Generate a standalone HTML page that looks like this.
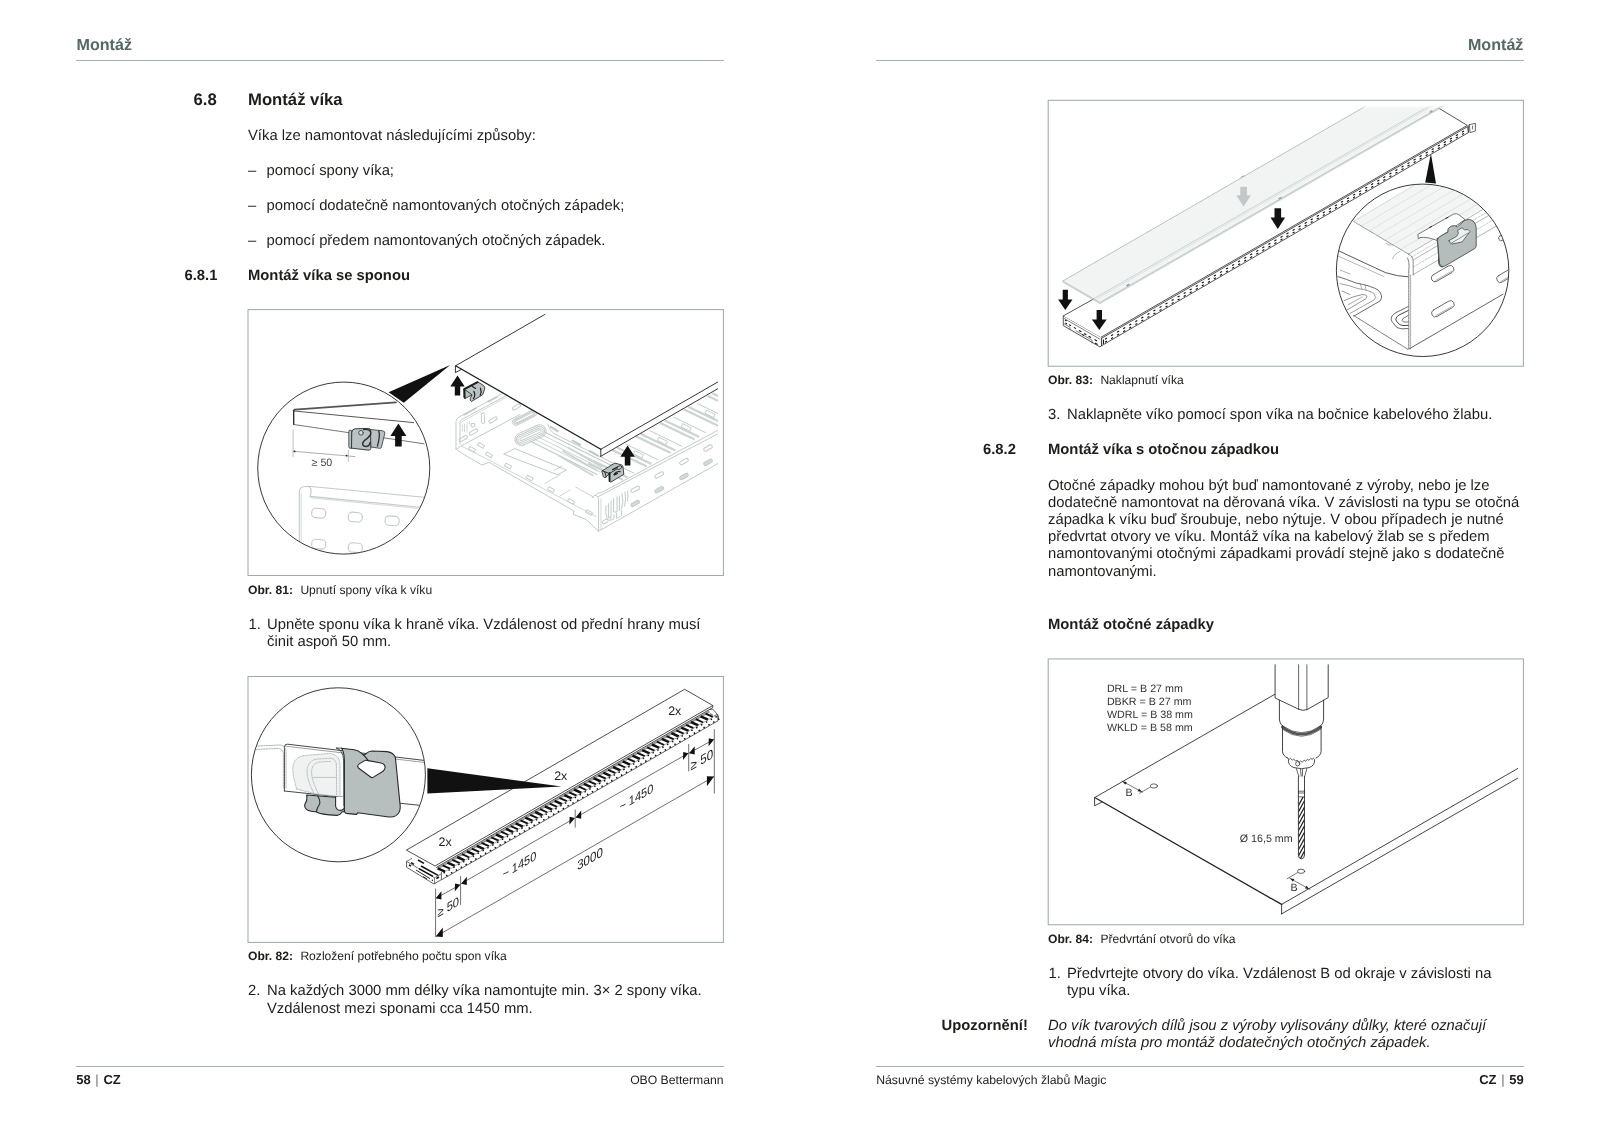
<!DOCTYPE html>
<html lang="cs"><head><meta charset="utf-8"><title>Montáž víka</title>
<style>
html,body{margin:0;padding:0;background:#fff}
#pg{position:absolute;left:0;top:0;width:1600px;height:1131px;will-change:transform;-webkit-font-smoothing:antialiased;text-rendering:geometricPrecision}
body{width:1600px;height:1131px;position:relative;overflow:hidden;font-family:"Liberation Sans",Arial,Helvetica,sans-serif;color:#1d1d1b}
.t{position:absolute;white-space:nowrap;line-height:20px;height:20px}
.rule{position:absolute;height:1.25px;background:#a3b0ae}
.bar{font-weight:normal;color:#6f6f6f}
.fig{position:absolute;border:1px solid #b9c2c0;box-sizing:content-box}
svg.f{position:absolute;left:0;top:0;overflow:visible}
svg.f text{font-family:"Liberation Sans",Arial,Helvetica,sans-serif;fill:#1d1d1b}
</style></head><body><div id="pg">
<div class="t" style="top:35px;font-size:16.1px;left:76.50px;font-weight:bold;color:#546866;">Montáž</div>
<div class="rule" style="left:76px;top:59.5px;width:648px"></div>
<div class="t" style="top:90px;font-size:16.7px;left:193.50px;font-weight:bold;">6.8</div>
<div class="t" style="top:90px;font-size:16.7px;left:248.00px;font-weight:bold;">Montáž víka</div>
<div class="t" style="top:126px;font-size:14.8px;left:248.00px;">Víka lze namontovat následujícími způsoby:</div>
<div class="t" style="top:161px;font-size:14.8px;left:248.00px;">–</div>
<div class="t" style="top:161px;font-size:14.8px;left:266.50px;">pomocí spony víka;</div>
<div class="t" style="top:196px;font-size:14.8px;left:248.00px;">–</div>
<div class="t" style="top:196px;font-size:14.8px;left:266.50px;">pomocí dodatečně namontovaných otočných západek;</div>
<div class="t" style="top:231px;font-size:14.8px;left:248.00px;">–</div>
<div class="t" style="top:231px;font-size:14.8px;left:266.50px;">pomocí předem namontovaných otočných západek.</div>
<div class="t" style="top:266px;font-size:14.8px;left:184.50px;font-weight:bold;">6.8.1</div>
<div class="t" style="top:266px;font-size:14.8px;left:248.00px;font-weight:bold;">Montáž víka se sponou</div>
<div class="t" style="top:580px;font-size:12.1px;left:248.00px;font-weight:bold;">Obr. 81:</div>
<div class="t" style="top:580px;font-size:12.1px;left:300.40px;">Upnutí spony víka k víku</div>
<div class="t" style="top:615px;font-size:14.8px;left:248.60px;">1.</div>
<div class="t" style="top:615px;font-size:14.8px;left:267.00px;">Upněte sponu víka k hraně víka. Vzdálenost od přední hrany musí</div>
<div class="t" style="top:632px;font-size:14.8px;left:267.00px;">činit aspoň 50 mm.</div>
<div class="t" style="top:946px;font-size:12.1px;left:248.00px;font-weight:bold;">Obr. 82:</div>
<div class="t" style="top:946px;font-size:12.1px;left:300.40px;">Rozložení potřebného počtu spon víka</div>
<div class="t" style="top:981px;font-size:14.8px;left:248.00px;">2.</div>
<div class="t" style="top:981px;font-size:14.8px;left:267.00px;">Na každých 3000 mm délky víka namontujte min. 3× 2 spony víka.</div>
<div class="t" style="top:999px;font-size:14.8px;left:267.00px;">Vzdálenost mezi sponami cca 1450 mm.</div>
<div class="rule" style="left:76px;top:1065.6px;width:648px"></div>
<div class="t" style="top:1070px;font-size:13px;left:76.20px;font-weight:bold;word-spacing:1.1px;">58 <span class="bar">|</span> CZ</div>
<div class="t" style="top:1070px;font-size:12.2px;right:876.40px;">OBO Bettermann</div>
<div class="t" style="top:35px;font-size:16.1px;right:76.60px;font-weight:bold;color:#546866;">Montáž</div>
<div class="rule" style="left:876px;top:59.5px;width:648px"></div>
<div class="t" style="top:370px;font-size:12.1px;left:1048.00px;font-weight:bold;">Obr. 83:</div>
<div class="t" style="top:370px;font-size:12.1px;left:1100.40px;">Naklapnutí víka</div>
<div class="t" style="top:405px;font-size:14.8px;left:1048.00px;">3.</div>
<div class="t" style="top:405px;font-size:14.8px;left:1067.00px;">Naklapněte víko pomocí spon víka na bočnice kabelového žlabu.</div>
<div class="t" style="top:440px;font-size:14.8px;left:983.00px;font-weight:bold;">6.8.2</div>
<div class="t" style="top:440px;font-size:14.8px;left:1048.00px;font-weight:bold;">Montáž víka s otočnou západkou</div>
<div class="t" style="top:476px;font-size:14.8px;left:1048.00px;">Otočné západky mohou být buď namontované z výroby, nebo je lze</div>
<div class="t" style="top:493px;font-size:14.8px;left:1048.00px;">dodatečně namontovat na děrovaná víka. V závislosti na typu se otočná</div>
<div class="t" style="top:510px;font-size:14.8px;left:1048.00px;">západka k víku buď šroubuje, nebo nýtuje. V obou případech je nutné</div>
<div class="t" style="top:527px;font-size:14.8px;left:1048.00px;">předvrtat otvory ve víku. Montáž víka na kabelový žlab se s předem</div>
<div class="t" style="top:544px;font-size:14.8px;left:1048.00px;">namontovanými otočnými západkami provádí stejně jako s dodatečně</div>
<div class="t" style="top:562px;font-size:14.8px;left:1048.00px;">namontovanými.</div>
<div class="t" style="top:615px;font-size:14.8px;left:1048.00px;font-weight:bold;">Montáž otočné západky</div>
<div class="t" style="top:929px;font-size:12.1px;left:1048.00px;font-weight:bold;">Obr. 84:</div>
<div class="t" style="top:929px;font-size:12.1px;left:1100.40px;">Předvrtání otvorů do víka</div>
<div class="t" style="top:964px;font-size:14.8px;left:1048.60px;">1.</div>
<div class="t" style="top:964px;font-size:14.8px;left:1067.00px;">Předvrtejte otvory do víka. Vzdálenost B od okraje v závislosti na</div>
<div class="t" style="top:981px;font-size:14.8px;left:1067.00px;">typu víka.</div>
<div class="t" style="top:1016px;font-size:14.8px;left:941.50px;font-weight:bold;">Upozornění!</div>
<div class="t" style="top:1016px;font-size:14.8px;left:1048.00px;font-style:italic;">Do vík tvarových dílů jsou z výroby vylisovány důlky, které označují</div>
<div class="t" style="top:1033px;font-size:14.8px;left:1048.00px;font-style:italic;">vhodná místa pro montáž dodatečných otočných západek.</div>
<div class="rule" style="left:876px;top:1065.6px;width:648px"></div>
<div class="t" style="top:1070px;font-size:12.25px;left:876.20px;">Násuvné systémy kabelových žlabů Magic</div>
<div class="t" style="top:1070px;font-size:13px;right:76.20px;font-weight:bold;word-spacing:1.1px;">CZ <span class="bar">|</span> 59</div>
<svg class="f" width="1600" height="1131" viewBox="0 0 1600 1131"><g fill="none" stroke="#a0abaa" stroke-width="1.05"><rect x="248" y="309.6" width="475.4" height="265.9"/><rect x="248" y="676.5" width="475.4" height="265.9"/><rect x="1048.2" y="100.3" width="475.2" height="265.9"/><rect x="1048.2" y="658.9" width="475.2" height="265.9"/></g></svg>
<svg class="f" width="1600" height="1131" viewBox="0 0 1600 1131">
<defs><clipPath id="c81"><circle cx="343.75" cy="468.1" r="85.6"/></clipPath><clipPath id="b81"><rect x="249" y="311" width="469" height="264"/></clipPath></defs>
<g clip-path="url(#b81)" fill="none" stroke="#c2cac8" stroke-width="1" stroke-linecap="round" stroke-linejoin="round">
<path d="M456 449 L456 421.5 Q456.3 418.4 459 417 L504 392.6"/>
<path d="M460 444 L460 422.5 Q460.3 420.4 462 419.4 L508 394.6"/>
<path d="M457.5 448.6 L461 446 L520 414.4"/>
<path d="M462 421.6 L506 397.4" stroke-width="0.7"/>
<rect x="488.5" y="418.4" width="9" height="3.2" rx="1.6" transform="rotate(-30 493.0 420.0)" />
<rect x="469.0" y="430.4" width="9" height="3.2" rx="1.6" transform="rotate(-30 473.5 432.0)" />
<rect x="458.7" y="437.0" width="9" height="3.2" rx="1.6" transform="rotate(-30 463.2 438.6)" />
<rect x="512.0" y="405.4" width="9" height="3.2" rx="1.6" transform="rotate(-30 516.5 407.0)" />
<rect x="481.4" y="413" width="3.2" height="10.5" rx="1.4"/>
<rect x="471.6" y="423.6" width="3.2" height="3.2"/>
<path d="M462.4 425 L462.4 431 M464.6 424 L464.6 432 M467 423 L467 431 M469.4 422 L469.4 424" stroke-width="0.8"/>
<path d="M464 414.8 L476 408.2 M488 401.8 L497 397" stroke-width="1.6"/>
<path d="M456 449 L463 454 L482 465 L489 462.4 L492.4 464.2 L574 511 L573.4 514.4 L586 519.4 L598.6 531.2"/>
<path d="M462 446.4 L488 459.6 L596 516.4" stroke-width="0.8"/>
<rect x="468.8" y="447.7" width="6.4" height="3" transform="rotate(29 472 449.2)" stroke-width="0.9"/>
<rect x="477.8" y="443.9" width="6.4" height="3" transform="rotate(29 481 445.4)" stroke-width="0.9"/>
<rect x="485.8" y="453.3" width="6.4" height="3" transform="rotate(29 489 454.8)" stroke-width="0.9"/>
<rect x="504.8" y="464.5" width="6.4" height="3" transform="rotate(29 508 466)" stroke-width="0.9"/>
<rect x="526.4" y="476.5" width="6.4" height="3" transform="rotate(29 529.6 478)" stroke-width="0.9"/>
<rect x="547.8" y="488.1" width="6.4" height="3" transform="rotate(29 551 489.6)" stroke-width="0.9"/>
<rect x="567.8" y="499.9" width="6.4" height="3" transform="rotate(29 571 501.4)" stroke-width="0.9"/>
<rect x="585.8" y="511.1" width="6.4" height="3" transform="rotate(29 589 512.6)" stroke-width="0.9"/>
<path d="M504 454 L515 448.6 L566.4 470 L558 474.6Z"/>
<path d="M560 474.8 L545 483.4 M553.6 470.6 L562 466" stroke-width="0.8"/>
<rect x="511.6" y="414.4" width="26" height="6.4" rx="3.2" transform="rotate(-27 524.6 417.6)" stroke-width="0.9"/>
<rect x="513.1" y="415.5" width="23" height="4.2" rx="2.1" transform="rotate(-27 524.6 417.6)" stroke-width="0.9"/>
<rect x="514.6" y="416.5" width="20" height="2.2" rx="1.1" transform="rotate(-27 524.6 417.6)" stroke-width="0.9"/>
<rect x="514.0" y="428.9" width="33" height="12.5" rx="6.25" transform="rotate(-24 530.5 435.2)" stroke-width="0.9"/>
<rect x="515.5" y="430.6" width="30" height="9.2" rx="4.6" transform="rotate(-24 530.5 435.2)" stroke-width="0.9"/>
<rect x="517.0" y="432.3" width="27" height="5.8" rx="2.9" transform="rotate(-24 530.5 435.2)" stroke-width="0.9"/>
<rect x="519.0" y="434.0" width="23" height="2.4" rx="1.2" transform="rotate(-24 530.5 435.2)" stroke-width="0.9"/>
<path d="M531.0 441.6 L597.0 474.6" stroke-width="1.1"/>
<path d="M534.6 439.3 L600.6 472.3" stroke-width="0.8"/>
<path d="M538.2 437.0 L604.2 470.0" stroke-width="0.8"/>
<path d="M541.8 434.7 L607.8 467.7" stroke-width="0.8"/>
<path d="M545.4 432.4 L611.4 465.4" stroke-width="1.1"/>
<path d="M548 424.8 Q550 431.6 556 434.6 L603 458" />
<path d="M551 427 L557.6 431 M572.6 440.6 L580 444.8 M590 451.2 L598 455.6" stroke-width="2.2"/>
<path d="M589.0 463.8 L622.0 479.6" stroke-width="2.2" stroke="#ccd3d2"/>
<path d="M593.6 461.2 L626.6 477.0" stroke-width="2.2" stroke="#ccd3d2"/>
<path d="M602.0 457.6 L634.0 473.2" stroke-width="1"/>
<rect x="611.0" y="464.2" width="9.5" height="3.6" transform="rotate(26 611.0 464.2)" stroke-width="0.9"/>
<path d="M612.9 450.3 L645.9 466.1" stroke-width="2.2" stroke="#ccd3d2"/>
<path d="M617.5 447.7 L650.5 463.5" stroke-width="2.2" stroke="#ccd3d2"/>
<path d="M625.9 444.1 L657.9 459.7" stroke-width="1"/>
<rect x="634.9" y="450.7" width="9.5" height="3.6" transform="rotate(26 634.9 450.7)" stroke-width="0.9"/>
<path d="M636.8 436.8 L669.8 452.6" stroke-width="2.2" stroke="#ccd3d2"/>
<path d="M641.4 434.2 L674.4 450.0" stroke-width="2.2" stroke="#ccd3d2"/>
<path d="M649.8 430.6 L681.8 446.2" stroke-width="1"/>
<rect x="658.8" y="437.2" width="9.5" height="3.6" transform="rotate(26 658.8 437.2)" stroke-width="0.9"/>
<path d="M660.7 423.3 L693.7 439.1" stroke-width="2.2" stroke="#ccd3d2"/>
<path d="M665.3 420.7 L698.3 436.5" stroke-width="2.2" stroke="#ccd3d2"/>
<path d="M673.7 417.1 L705.7 432.7" stroke-width="1"/>
<rect x="682.7" y="423.7" width="9.5" height="3.6" transform="rotate(26 682.7 423.7)" stroke-width="0.9"/>
<path d="M684.6 409.8 L717.6 425.6" stroke-width="2.2" stroke="#ccd3d2"/>
<path d="M689.2 407.2 L722.2 423.0" stroke-width="2.2" stroke="#ccd3d2"/>
<path d="M697.6 403.6 L729.6 419.2" stroke-width="1"/>
<rect x="706.6" y="410.2" width="9.5" height="3.6" transform="rotate(26 706.6 410.2)" stroke-width="0.9"/>
<path d="M708.5 396.3 L741.5 412.1" stroke-width="2.2" stroke="#ccd3d2"/>
<path d="M713.1 393.7 L746.1 409.5" stroke-width="2.2" stroke="#ccd3d2"/>
<path d="M721.5 390.1 L753.5 405.7" stroke-width="1"/>
<rect x="730.5" y="396.7" width="9.5" height="3.6" transform="rotate(26 730.5 396.7)" stroke-width="0.9"/>
<path d="M563 451 L597 470.6 M558.6 455.4 L593 475.4 M568 447.6 L601 466.4" stroke-width="1.7" stroke="#ccd3d2"/>
<path d="M598.6 531.2 L598.6 499.6 Q598.4 496 595.6 495.2 Q593.4 495 592.4 497.6"/>
<path d="M598.6 496.4 L717.8 433.8"/>
<path d="M595.6 495.2 Q597 492.6 601.4 492.6 L717.8 430.4"/>
<path d="M598.6 531.2 L717.8 463.6"/>
<path d="M601 529.8 L601 499" stroke-width="0.7"/>
<rect x="630.6" y="487.5" width="9.4" height="3.4" rx="1.7" transform="rotate(-29 635.3 489.2)" />
<rect x="654.5" y="473.2" width="9.4" height="3.4" rx="1.7" transform="rotate(-29 659.2 474.9)" />
<rect x="679.3" y="459.9" width="9.4" height="3.4" rx="1.7" transform="rotate(-29 684.0 461.6)" />
<rect x="703.3" y="446.3" width="9.4" height="3.4" rx="1.7" transform="rotate(-29 708.0 448.0)" />
<rect x="630.6" y="501.7" width="9.4" height="3.4" rx="1.7" transform="rotate(-29 635.3 503.4)" fill="#d4dad9"/>
<rect x="654.5" y="488.0" width="9.4" height="3.4" rx="1.7" transform="rotate(-29 659.2 489.7)" fill="#d4dad9"/>
<rect x="679.3" y="474.8" width="9.4" height="3.4" rx="1.7" transform="rotate(-29 684.0 476.5)" fill="#d4dad9"/>
<rect x="703.3" y="460.6" width="9.4" height="3.4" rx="1.7" transform="rotate(-29 708.0 462.3)" fill="#d4dad9"/>
<rect x="602.1" y="519.9" width="6.4" height="3" rx="1.5" transform="rotate(-29 605.3 521.4)" />
<path d="M606 505.6 Q605 513 607 519 M608.4 503.6 L608.4 518 M611 501 L611 517.6 M613.6 498.6 L613.6 512 L617 512 L617 497 M619.4 496 L619.4 510.6 M622 493.6 Q624 501 621.6 509 M625 492 Q626.6 498.6 624.6 506 M627.6 491 Q628.6 496 627.4 501"/>
<path d="M610 516.6 L610 520.6 L614 518.6 L614 514.6 M616.6 513.4 L616.6 518.4 L621.6 515.6 L621.6 510.6"/>
<path d="M575.6 487 L594 497.4 M560 496 L570 490" stroke-width="0.8"/>
</g>
<g clip-path="url(#b81)" stroke-linecap="round" stroke-linejoin="round">
<path d="M455.4 365.9 L544.9 314.4 L718 314.4 L718 388.6 L600.8 456.3 L600.8 449.3 L461.4 369.4 L455.4 372.6Z" fill="#fff" stroke="none"/>
<g fill="none" stroke="#1f1f1f" stroke-width="0.9">
<path d="M455.4 365.9 L544.9 314.4"/>
<path d="M455.4 365.9 L455.4 372.6 L461.4 369.4"/>
<path d="M456.4 366.2 L600.8 449.3" stroke-width="1.3"/>
<path d="M600.8 449.3 L600.8 456.3 M600.8 449.3 L718 381.9 M600.8 456.3 L718 388.6"/>
</g></g>
<path d="M457.5 375.4 L464.7 386.5 L460.2 386.5 L460.2 395.6 L454.8 395.6 L454.8 386.5 L450.3 386.5Z" fill="#111"/>
<path d="M627.6 445.5 L634.8000000000001 456.7 L630.4 456.7 L630.4 465.6 L624.8000000000001 465.6 L624.8000000000001 456.7 L620.4 456.7Z" fill="#111"/>
<g stroke="#1f1f1f" stroke-linejoin="round" stroke-linecap="round">
<path d="M464 389.2 L477.7 381.9 L483.5 385.4 Q485.4 387 484.6 389.4 L482.6 394.8 L471.6 401.4 Q469.6 400.6 470.2 398.6 L472 394.8 L465 398.6 L464 397.6Z" fill="#b9c3c3" stroke-width="0.8"/>
<path d="M464.2 389.2 L477.6 382.2" fill="none" stroke-width="2"/>
<path d="M464.6 389.4 L464.8 398" fill="none" stroke-width="1.6"/>
<path d="M464.6 389.6 L471.8 394.6" fill="none" stroke-width="0.8"/>
<path d="M473.8 391.4 Q476 395 473.4 398.6 M480.4 388.2 Q482 391.6 480.2 395.2 M472.4 386.6 L475.6 388.4" fill="none" stroke-width="1.2"/>
<path d="M602.2 470.8 L614.8 463.1 L621.6 464.9 Q623 465.6 623 467 L623.8 474.3 L610.8 482.2 L609.4 481.2 L609 474 L605 477.8 L603.7 477Z" fill="#b9c3c3" stroke-width="0.8"/>
<path d="M609.6 473 L609.6 481" fill="none" stroke-width="1.8"/>
<path d="M602.4 470.8 L609.4 473.6 L620.6 466.6 M604.8 472 L606.2 477" fill="none" stroke-width="0.9"/>
<path d="M612.6 469.6 L618 466.8 M614 474.4 Q616.4 471 620 471.6 M614.4 475 L617.4 473.4" fill="none" stroke-width="1.2"/>
<ellipse cx="619.4" cy="467.6" rx="2.6" ry="1.6" transform="rotate(-28 619.4 467.6)" fill="#b9c3c3" stroke-width="0.7"/>
</g>
<path d="M388.6 392.3 L450.2 364.9 L403.8 402.8Z" fill="#111"/>
<circle cx="343.75" cy="468.1" r="86" fill="#fff" stroke="none"/>
<g clip-path="url(#c81)" fill="none" stroke-linecap="round" stroke-linejoin="round">
<g stroke="#c2cac8" stroke-width="1.1">
<path d="M299.3 556 L299.3 492.4 Q299.6 487.4 303.4 486.7 L309 486.3 Q311.6 489 311 492.6 L310.2 496.4"/>
<path d="M301.2 556 L301.2 493.6" stroke-width="0.7"/>
<path d="M308.2 486.2 L424 497.2"/>
<path d="M310.2 496.4 L420 507.2"/>
<path d="M310.4 497.8 L418 508.4" stroke-width="0.7"/>
<rect x="311.7" y="508.50000000000006" width="14" height="9.4" rx="4" transform="rotate(5 318.7 513.2)"/>
<rect x="348.3" y="512.4" width="14" height="9.4" rx="4" transform="rotate(5 355.3 517.1)"/>
<rect x="385.1" y="516.0999999999999" width="14" height="9.4" rx="4" transform="rotate(5 392.1 520.8)"/>
<rect x="311.7" y="539.5" width="14" height="9.4" rx="4" transform="rotate(5 318.7 544.2)"/>
<rect x="348.3" y="543.0" width="14" height="9.4" rx="4" transform="rotate(5 355.3 547.7)"/>
<rect x="385" y="546.6999999999999" width="14" height="9.4" rx="4" transform="rotate(5 392 551.4)"/>
</g>
<g stroke="#333">
<path d="M294.6 409.7 L396 402.3" stroke="#555" stroke-width="1.7"/>
<path d="M293.7 410.2 L293.7 424.4" stroke="#222" stroke-width="1.3"/>
<path d="M294.4 411 L413.6 422.6" stroke="#444" stroke-width="0.9"/>
<path d="M293.7 424.5 L424 443.8" stroke="#555" stroke-width="0.8"/>
</g>
<g stroke="#999" stroke-width="0.6">
<path d="M293.1 430 L293.1 457 M348.3 450.4 L348.3 461.4"/>
<path d="M293.1 451.2 L355 456.6" stroke="#777"/>
</g>
<circle cx="346.6" cy="455.6" r="0.9" fill="#222"/><circle cx="294.6" cy="451.4" r="0.9" fill="#222"/>
</g>
<g stroke="#2e3232" stroke-linejoin="round" stroke-linecap="round">
<path d="M348.8 431 Q348.8 430.2 349.8 430.2 L351.6 430.5 L351.9 448.3 L350 448.2 Q348.8 448 348.8 447Z" fill="#b9c3c3" stroke-width="0.8"/>
<path d="M370 429.4 L382.8 430.8 Q385.2 431.4 384.8 433.4 L381.4 447.4 Q381 448.6 379.6 448.3 L371.2 447Z" fill="#b9c3c3" stroke-width="0.8"/>
<path d="M351.8 432.2 Q352 429 355 428.8 L368.6 428.4 Q370.6 428.6 370.6 430.4 L370.8 448.6 Q370.6 450 368.8 450.2 L351.9 448.2Z" fill="#b9c3c3" stroke-width="0.9"/>
<circle cx="361" cy="432.8" r="2.3" fill="#d5dcdc" stroke-width="0.8"/>
<path d="M363.6 429.4 Q369 428.6 370.6 431.6 Q371.6 435 367 438.6 Q362.6 441.6 362.6 444 Q363 446.6 366.4 446.6 Q369.4 446.2 370.2 442.6" fill="none" stroke-width="1.5"/>
<path d="M378.8 430.8 Q380.4 436 377.4 446.2" fill="none" stroke-width="1.3"/>
</g>
<path d="M398.4 423.4 L406.4 435.9 L401.7 435.9 L401.7 446.6 L395.09999999999997 446.6 L395.09999999999997 435.9 L390.4 435.9Z" fill="#111"/>
<circle cx="343.75" cy="468.1" r="86" fill="none" stroke="#222" stroke-width="0.9"/>
<text x="311.6" y="466" font-size="10.7" style="fill:#444">≥ 50</text>
</svg>
<svg class="f" width="1600" height="1131" viewBox="0 0 1600 1131">
<defs><clipPath id="c82"><circle cx="338.4" cy="774.8" r="86.6"/></clipPath></defs>
<g stroke="#222" stroke-width="0.7" fill="none" stroke-linejoin="round" stroke-linecap="butt">
<path d="M436.2 866 L709.6 708.2 L718 720.8 L441.2 880Z" fill="#fff" stroke="none"/>
<path d="M406.5 861.4 L406.5 867.2 L434 884 L441.4 879.6 L441.4 872" fill="#fff"/>
<path d="M406.5 861.4 L412 858.4 M406.5 861.4 L434.6 877.8 L434.6 884 M434.6 877.8 L441 874" stroke-width="0.6"/>
<path d="M418 860 L424 863.4 M421 866 L438 875.4 M419 868.6 L433 876.4 M411 862.6 L414 864.4 M409 865 L411 866.2" stroke="#111" stroke-width="1.5"/>
<path d="M416 870 L430 878.6 M423 876.6 L427 879" stroke="#111" stroke-width="0.9"/>
<path d="M436.4 878.6 L439 877" stroke="#111" stroke-width="1.6"/>
<circle cx="432.4" cy="880.2" r="0.7" fill="#111" stroke="none"/>
<path d="M437.4 868.6 L709.4 711.5" stroke="#9c9c9c" stroke-width="2.2"/>
<path d="M441.2 880 L718 720.8"/>
</g>
<path d="M437.7 868.3 L445.1 871.6 M447.4 862.6 L454.8 865.9 M457.2 857.0 L464.6 860.3 M466.9 851.4 L474.3 854.7 M476.7 845.8 L484.1 849.1 M486.4 840.1 L493.8 843.4 M496.1 834.5 L503.5 837.8 M505.9 828.9 L513.3 832.2 M515.6 823.3 L523.0 826.6 M525.3 817.6 L532.7 820.9 M535.1 812.0 L542.5 815.3 M544.8 806.4 L552.2 809.7 M554.6 800.8 L562.0 804.1 M564.3 795.1 L571.7 798.4 M574.0 789.5 L581.4 792.8 M583.8 783.9 L591.2 787.2 M593.5 778.2 L600.9 781.5 M603.2 772.6 L610.6 775.9 M613.0 767.0 L620.4 770.3 M622.7 761.4 L630.1 764.7 M632.5 755.7 L639.9 759.0 M642.2 750.1 L649.6 753.4 M651.9 744.5 L659.3 747.8 M661.7 738.9 L669.1 742.2 M671.4 733.2 L678.8 736.5 M681.2 727.6 L688.6 730.9 M690.9 722.0 L698.3 725.3 M700.6 716.4 L708.0 719.7" stroke="#111" stroke-width="2.5" fill="none"/>
<path d="M442.6 865.4 L450.0 868.7 M452.3 859.8 L459.7 863.1 M462.0 854.2 L469.4 857.5 M471.8 848.6 L479.2 851.9 M481.5 842.9 L488.9 846.2 M491.3 837.3 L498.7 840.6 M501.0 831.7 L508.4 835.0 M510.7 826.1 L518.1 829.4 M520.5 820.4 L527.9 823.7 M530.2 814.8 L537.6 818.1 M540.0 809.2 L547.4 812.5 M549.7 803.6 L557.1 806.9 M559.4 797.9 L566.8 801.2 M569.2 792.3 L576.6 795.6 M578.9 786.7 L586.3 790.0 M588.6 781.1 L596.0 784.4 M598.4 775.4 L605.8 778.7 M608.1 769.8 L615.5 773.1 M617.9 764.2 L625.3 767.5 M627.6 758.6 L635.0 761.9 M637.3 752.9 L644.7 756.2 M647.1 747.3 L654.5 750.6 M656.8 741.7 L664.2 745.0 M666.5 736.1 L673.9 739.4 M676.3 730.4 L683.7 733.7 M686.0 724.8 L693.4 728.1 M695.8 719.2 L703.2 722.5 M705.5 713.6 L712.9 716.9" stroke="#111" stroke-width="1.9" fill="none"/>
<path d="M443.6 873.2 l1.3 -0.75 M446.1 876.0 l1.3 -0.75 M448.5 870.4 l1.3 -0.75 M451.0 873.2 l1.3 -0.75 M453.3 867.6 l1.3 -0.75 M455.8 870.4 l1.3 -0.75 M458.2 864.8 l1.3 -0.75 M460.7 867.6 l1.3 -0.75 M463.0 862.0 l1.3 -0.75 M465.5 864.8 l1.3 -0.75 M467.9 859.3 l1.3 -0.75 M470.4 862.1 l1.3 -0.75 M472.7 856.5 l1.3 -0.75 M475.2 859.3 l1.3 -0.75 M477.6 853.7 l1.3 -0.75 M480.1 856.5 l1.3 -0.75 M482.5 850.9 l1.3 -0.75 M485.0 853.7 l1.3 -0.75 M487.3 848.1 l1.3 -0.75 M489.8 850.9 l1.3 -0.75 M492.2 845.3 l1.3 -0.75 M494.7 848.1 l1.3 -0.75 M497.0 842.5 l1.3 -0.75 M499.5 845.3 l1.3 -0.75 M501.9 839.7 l1.3 -0.75 M504.4 842.5 l1.3 -0.75 M506.7 836.9 l1.3 -0.75 M509.2 839.7 l1.3 -0.75 M511.6 834.1 l1.3 -0.75 M514.1 836.9 l1.3 -0.75 M516.5 831.3 l1.3 -0.75 M519.0 834.1 l1.3 -0.75 M521.3 828.5 l1.3 -0.75 M523.8 831.3 l1.3 -0.75 M526.2 825.7 l1.3 -0.75 M528.7 828.5 l1.3 -0.75 M531.0 822.9 l1.3 -0.75 M533.5 825.7 l1.3 -0.75 M535.9 820.1 l1.3 -0.75 M538.4 822.9 l1.3 -0.75 M540.7 817.3 l1.3 -0.75 M543.2 820.1 l1.3 -0.75 M545.6 814.6 l1.3 -0.75 M548.1 817.4 l1.3 -0.75 M550.5 811.8 l1.3 -0.75 M553.0 814.6 l1.3 -0.75 M555.3 809.0 l1.3 -0.75 M557.8 811.8 l1.3 -0.75 M560.2 806.2 l1.3 -0.75 M562.7 809.0 l1.3 -0.75 M565.0 803.4 l1.3 -0.75 M567.5 806.2 l1.3 -0.75 M569.9 800.6 l1.3 -0.75 M572.4 803.4 l1.3 -0.75 M574.7 797.8 l1.3 -0.75 M577.2 800.6 l1.3 -0.75 M579.6 795.0 l1.3 -0.75 M582.1 797.8 l1.3 -0.75 M584.5 792.2 l1.3 -0.75 M587.0 795.0 l1.3 -0.75 M589.3 789.4 l1.3 -0.75 M591.8 792.2 l1.3 -0.75 M594.2 786.6 l1.3 -0.75 M596.7 789.4 l1.3 -0.75 M599.0 783.8 l1.3 -0.75 M601.5 786.6 l1.3 -0.75 M603.9 781.0 l1.3 -0.75 M606.4 783.8 l1.3 -0.75 M608.7 778.2 l1.3 -0.75 M611.2 781.0 l1.3 -0.75 M613.6 775.4 l1.3 -0.75 M616.1 778.2 l1.3 -0.75 M618.5 772.7 l1.3 -0.75 M621.0 775.5 l1.3 -0.75 M623.3 769.9 l1.3 -0.75 M625.8 772.7 l1.3 -0.75 M628.2 767.1 l1.3 -0.75 M630.7 769.9 l1.3 -0.75 M633.0 764.3 l1.3 -0.75 M635.5 767.1 l1.3 -0.75 M637.9 761.5 l1.3 -0.75 M640.4 764.3 l1.3 -0.75 M642.7 758.7 l1.3 -0.75 M645.2 761.5 l1.3 -0.75 M647.6 755.9 l1.3 -0.75 M650.1 758.7 l1.3 -0.75 M652.5 753.1 l1.3 -0.75 M655.0 755.9 l1.3 -0.75 M657.3 750.3 l1.3 -0.75 M659.8 753.1 l1.3 -0.75 M662.2 747.5 l1.3 -0.75 M664.7 750.3 l1.3 -0.75 M667.0 744.7 l1.3 -0.75 M669.5 747.5 l1.3 -0.75 M671.9 741.9 l1.3 -0.75 M674.4 744.7 l1.3 -0.75 M676.7 739.1 l1.3 -0.75 M679.2 741.9 l1.3 -0.75 M681.6 736.3 l1.3 -0.75 M684.1 739.1 l1.3 -0.75 M686.5 733.5 l1.3 -0.75 M689.0 736.3 l1.3 -0.75 M691.3 730.7 l1.3 -0.75 M693.8 733.5 l1.3 -0.75 M696.2 728.0 l1.3 -0.75 M698.7 730.8 l1.3 -0.75 M701.0 725.2 l1.3 -0.75 M703.5 728.0 l1.3 -0.75 M705.9 722.4 l1.3 -0.75 M708.4 725.2 l1.3 -0.75 M710.7 719.6 l1.3 -0.75 M713.2 722.4 l1.3 -0.75 M715.6 716.8 l1.3 -0.75 M718.1 719.6 l1.3 -0.75" stroke="#111" stroke-width="1.5" fill="none"/>
<path d="M445.4 871.4 L713.6 716.6" stroke="#777" stroke-width="0.6" fill="none"/>
<path d="M709.4 709.6 L712.6 709 L717.6 714.6 L718 720.8 M714 716.2 L716.6 714.4 L718.4 715.8 L718.4 719" stroke="#222" stroke-width="0.7" fill="none"/>
<path d="M710 713.4 L713 715.4 M715.6 717.6 L717 716.8" stroke="#777" stroke-width="1.2" fill="none"/>
<path d="M406.4 850.1 L684.6 689.3 L712.8 705.5 L712.8 707.6 L435 868 L435 866Z" fill="#fff" stroke="none"/>
<path d="M406.4 850.1 L684.6 689.3 L712.8 705.5 L435 866Z M712.8 705.5 L712.8 707.6 L436 867.6" fill="none" stroke="#222" stroke-width="0.8" stroke-linejoin="round"/>
<g stroke="#333" stroke-width="0.7" fill="none">
<path d="M435.6 888.6 L435.6 936.8 M460.6 876.2 L460.6 905 M575.2 809.6 L575.2 827.6 M688.7 744 L688.7 771.4 M714.3 729.2 L714.3 793.6"/>
<path d="M436 898.2 L460 884.9"/>
<path d="M461.4 883.5 L574.6 818.2 M576 817.4 L688.2 753.3"/>
<path d="M689.2 753.1 L714 739.4"/>
<path d="M436 936.4 L714 776.6"/>
</g>
<path d="M435.8 898.3 L441.40000000000003 891.3 L441.40000000000003 899.5Z M460.2 884.8 L455.0 883.5999999999999 L454.8 891.5999999999999Z M461.2 883.7 L466.8 876.7 L466.8 884.9000000000001Z M574.8 818 L569.5999999999999 816.8 L569.4 824.8Z M575.6 817.6 L581.2 810.6 L581.2 818.8000000000001Z M688.4 753.2 L683.1999999999999 752.0 L683.0 760.0Z M689.1 753.2 L694.7 746.2 L694.7 754.4000000000001Z M714 739.4 L708.8 738.1999999999999 L708.6 746.1999999999999Z M435.8 936.6 L442.8 927.4 L442.8 937.0Z M714 776.6 L706.9 776.2 L706.9 786.2Z" fill="#111"/>
<g font-size="12.4">
<text x="438.6" y="846.4">2x</text><text x="554.2" y="780.4">2x</text><text x="668.2" y="715.2">2x</text>
<text transform="matrix(0.866 -0.5 0 1 437.4 917.6)" font-size="12.9">≥ 50</text>
<text transform="matrix(0.866 -0.5 0 1 502.4 879.1)" font-size="12.7">~ 1450</text>
<text transform="matrix(0.866 -0.5 0 1 619.4 811.5)" font-size="12.7">~ 1450</text>
<text transform="matrix(0.866 -0.5 0 1 577.2 870.6)" font-size="13.3">3000</text>
<text transform="matrix(0.866 -0.5 0 1 690.6 770.8)" font-size="13.4">≥ 50</text>
</g>
<path d="M427.4 768.2 L561.6 786.6 L427.4 793.4Z" fill="#111"/>
<circle cx="338.4" cy="774.8" r="87" fill="#fff"/>
<g clip-path="url(#c82)" fill="none" stroke-linecap="round" stroke-linejoin="round">
<path d="M284.4 746.4 Q284.6 743.6 287.4 744.2 L424 760.6 L424 805.6 L284.4 791Z" fill="#fff" stroke="none"/>
<path d="M284.4 791 L284.4 747 Q284.6 743.8 287.6 744.2 L424 760.4" stroke="#333" stroke-width="0.9"/>
<path d="M285.6 746.2 L424 762.4" stroke="#777" stroke-width="0.7"/>
<path d="M284.4 791 L424 805.8" stroke="#333" stroke-width="0.9"/>
<g stroke="#8d9594" stroke-width="0.7" stroke-dasharray="1.6 1.1">
<path d="M250 746.4 L279.6 745 Q285.6 745.6 286 751 L286 788"/>
<path d="M250 749.8 L278 748.4 Q283 749 283.4 754 L283.4 788"/>
</g>
<path d="M296.6 789 Q292 774 293 766 Q295 757 304 755.6 L330 753.4 Q339.6 755 340 764 L340 796.6 L316 794Z" fill="#f0f2f2" stroke="#a3abaa" stroke-width="0.7" stroke-dasharray="1.6 1.1"/>
<g stroke="#a3abaa" stroke-width="0.7" stroke-dasharray="1.6 1.1">
<path d="M314 793.4 Q305 776 307.6 767 Q310 759.6 318 759 L331 758.2 Q336 759.4 336.4 765 L336.6 795"/>
<path d="M318.4 793.6 Q310 777 312 768.6 Q314 762.4 320 762 L331 761.4"/>
<path d="M313.6 777.4 L336 777.4"/>
</g>
<g stroke="#262a2a" stroke-width="1.1">
<path d="M306.6 795 Q307.6 800 305.4 803 Q303.6 806.4 306.4 809.4 Q309 811.4 316 811.8 L317 812.2 Q320 814.4 337 815.4 Q341 814.6 341.6 812 L344.4 811.6 L344.4 798 L306.6 795Z" fill="#b7bfbe"/>
<path d="M317.8 796 Q320.6 801 319.6 804 Q317 808 316.2 811.8" />
<path d="M335.6 797 L335.6 806 Q336.4 810.4 340.4 810.4 Q344.4 810.2 344.6 806 L344.6 797" fill="#fff"/>
<path d="M341.6 748.2 L354.2 749.8 Q358 750.4 360.6 752.6 L363.8 755.2 L366.6 753.2 Q369 751.2 372 751 L387 751.6 Q393.6 752.4 395.4 757.6 L400.2 806 Q400.6 812.6 396 815.6 Q393 817.4 389 817 L357.6 812.8 L356.6 814.4 L346 813.4 L344.4 811.6 L344.4 760 Q344.2 752 341.6 748.2Z" fill="#b7bfbe"/>
<path d="M336.4 748 Q343 750 343.6 760 L343.8 806" stroke-width="0.8"/>
<path d="M336.4 748 L341.6 748.2" stroke-width="0.8"/>
<path d="M357.8 766.8 Q357.4 765 359.6 763.6 L364.6 760.6 Q365.6 760 367 760.4 L381 763 Q385.6 764.2 385 768 Q384.6 770 383 771.2 L373 777.4 Q371.6 778 370.6 777 L358.4 768Z" fill="#fff"/>
<path d="M363.8 755.2 L368.4 760.6" />
</g>
</g>
<circle cx="338.4" cy="774.8" r="87" fill="none" stroke="#222" stroke-width="0.9"/>
</svg>
<svg class="f" width="1600" height="1131" viewBox="0 0 1600 1131">
<defs><clipPath id="c83"><circle cx="1422.6" cy="270.3" r="85.9"/></clipPath><linearGradient id="g83" x1="0" y1="0" x2="0" y2="1"><stop offset="0" stop-color="#fff"/><stop offset="1" stop-color="#fff" stop-opacity="0"/></linearGradient></defs>
<g stroke="#2a2a2a" stroke-width="0.8" stroke-linejoin="round" stroke-linecap="round" fill="none">
<path d="M1063.3 316.3 L1100.5 337.5 L1467.3 125.4 L1437.2 107.2Z" fill="#fff"/>
<path d="M1063.3 316.3 L1063.3 325.6 L1099.9 346.9 L1101.8 345.6 L1101.8 338" fill="#fff"/>
<path d="M1064.4 318.6 L1099.6 339 M1064.4 324 L1070 327.2 L1070 329 M1076 330.8 L1092 340.2 L1092 343" stroke-width="0.6"/>
<path d="M1101.8 338.2 L1467.6 126.6 L1468.4 132.6 L1101.8 345.6Z" fill="#fff"/>
<path d="M1468.4 125.6 L1468.4 132.6 M1469.4 124.6 L1475.4 123.4 L1475.4 131 L1470 132.6 L1469.4 124.6 M1472.6 126 L1472.6 129" stroke-width="0.7"/>
</g>
<path d="M1105.0 339.2 L1107.0 338.1 M1105.0 342.2 L1107.0 341.1 M1111.1 335.7 L1113.1 334.5 M1111.1 338.7 L1113.1 337.6 M1117.1 332.2 L1119.1 331.0 M1117.1 335.2 L1119.1 334.0 M1123.2 328.7 L1125.2 327.5 M1123.2 331.7 L1125.2 330.5 M1129.2 325.2 L1131.2 324.0 M1129.2 328.2 L1131.2 327.0 M1135.3 321.7 L1137.3 320.5 M1135.3 324.6 L1137.3 323.5 M1141.3 318.2 L1143.3 317.0 M1141.3 321.1 L1143.3 320.0 M1147.4 314.6 L1149.4 313.5 M1147.4 317.6 L1149.4 316.5 M1153.4 311.1 L1155.4 310.0 M1153.4 314.1 L1155.4 312.9 M1159.5 307.6 L1161.5 306.5 M1159.5 310.6 L1161.5 309.4 M1165.5 304.1 L1167.5 303.0 M1165.5 307.1 L1167.5 305.9 M1171.6 300.6 L1173.6 299.4 M1171.6 303.5 L1173.6 302.4 M1177.6 297.1 L1179.6 295.9 M1177.6 300.0 L1179.6 298.9 M1183.7 293.6 L1185.7 292.4 M1183.7 296.5 L1185.7 295.3 M1189.7 290.1 L1191.7 288.9 M1189.7 293.0 L1191.7 291.8 M1195.8 286.6 L1197.8 285.4 M1195.8 289.5 L1197.8 288.3 M1201.8 283.1 L1203.8 281.9 M1201.8 285.9 L1203.8 284.8 M1207.9 279.6 L1209.9 278.4 M1207.9 282.4 L1209.9 281.3 M1213.9 276.0 L1215.9 274.9 M1213.9 278.9 L1215.9 277.7 M1220.0 272.5 L1222.0 271.4 M1220.0 275.4 L1222.0 274.2 M1226.0 269.0 L1228.0 267.9 M1226.0 271.9 L1228.0 270.7 M1232.1 265.5 L1234.1 264.4 M1232.1 268.3 L1234.1 267.2 M1238.1 262.0 L1240.1 260.8 M1238.1 264.8 L1240.1 263.7 M1244.2 258.5 L1246.2 257.3 M1244.2 261.3 L1246.2 260.1 M1250.2 255.0 L1252.2 253.8 M1250.2 257.8 L1252.2 256.6 M1256.3 251.5 L1258.3 250.3 M1256.3 254.3 L1258.3 253.1 M1262.3 248.0 L1264.3 246.8 M1262.3 250.7 L1264.3 249.6 M1268.4 244.5 L1270.4 243.3 M1268.4 247.2 L1270.4 246.1 M1274.4 241.0 L1276.4 239.8 M1274.4 243.7 L1276.4 242.5 M1280.5 237.4 L1282.5 236.3 M1280.5 240.2 L1282.5 239.0 M1286.5 233.9 L1288.5 232.8 M1286.5 236.7 L1288.5 235.5 M1292.6 230.4 L1294.6 229.3 M1292.6 233.1 L1294.6 232.0 M1298.6 226.9 L1300.6 225.8 M1298.6 229.6 L1300.6 228.5 M1304.7 223.4 L1306.7 222.2 M1304.7 226.1 L1306.7 224.9 M1310.7 219.9 L1312.7 218.7 M1310.7 222.6 L1312.7 221.4 M1316.8 216.4 L1318.8 215.2 M1316.8 219.1 L1318.8 217.9 M1322.8 212.9 L1324.8 211.7 M1322.8 215.5 L1324.8 214.4 M1328.9 209.4 L1330.9 208.2 M1328.9 212.0 L1330.9 210.9 M1334.9 205.9 L1336.9 204.7 M1334.9 208.5 L1336.9 207.3 M1341.0 202.3 L1343.0 201.2 M1341.0 205.0 L1343.0 203.8 M1347.0 198.8 L1349.0 197.7 M1347.0 201.5 L1349.0 200.3 M1353.1 195.3 L1355.1 194.2 M1353.1 198.0 L1355.1 196.8 M1359.1 191.8 L1361.1 190.7 M1359.1 194.4 L1361.1 193.3 M1365.2 188.3 L1367.2 187.2 M1365.2 190.9 L1367.2 189.8 M1371.2 184.8 L1373.2 183.6 M1371.2 187.4 L1373.2 186.2 M1377.3 181.3 L1379.3 180.1 M1377.3 183.9 L1379.3 182.7 M1383.3 177.8 L1385.3 176.6 M1383.3 180.4 L1385.3 179.2 M1389.4 174.3 L1391.4 173.1 M1389.4 176.8 L1391.4 175.7 M1395.4 170.8 L1397.4 169.6 M1395.4 173.3 L1397.4 172.2 M1401.5 167.3 L1403.5 166.1 M1401.5 169.8 L1403.5 168.6 M1407.5 163.7 L1409.5 162.6 M1407.5 166.3 L1409.5 165.1 M1413.6 160.2 L1415.6 159.1 M1413.6 162.8 L1415.6 161.6 M1419.6 156.7 L1421.6 155.6 M1419.6 159.2 L1421.6 158.1 M1425.7 153.2 L1427.7 152.1 M1425.7 155.7 L1427.7 154.6 M1431.7 149.7 L1433.7 148.6 M1431.7 152.2 L1433.7 151.0 M1437.8 146.2 L1439.8 145.0 M1437.8 148.7 L1439.8 147.5 M1443.8 142.7 L1445.8 141.5 M1443.8 145.2 L1445.8 144.0 M1449.9 139.2 L1451.9 138.0 M1449.9 141.6 L1451.9 140.5 M1455.9 135.7 L1457.9 134.5 M1455.9 138.1 L1457.9 137.0 M1462.0 132.2 L1464.0 131.0 M1462.0 134.6 L1464.0 133.4" stroke="#111" stroke-width="1.15" fill="none"/>
<path d="M1065 320 L1066.6 321 M1065.4 323 L1067 324 M1069 324.6 L1071 325.8 M1074 327.4 L1076 328.6 M1079 330.4 L1081.4 331.8 M1084 333.4 L1086.4 334.8 M1088.6 336.2 L1091 337.6 M1094.6 339.6 L1097 341 M1095 343 L1097.6 344.4 M1082 334.4 L1084 335.6 M1103.4 339.6 L1103.4 344" stroke="#111" stroke-width="1.1" fill="none"/>
<g stroke-linejoin="round" stroke-linecap="round">
<path d="M1062.8 281 L1099.9 302.5 L1442.4 105.8 L1366.2 105.8Z" fill="#f2f4f4" stroke="none"/>
<g fill="none" stroke="#aab3b2" stroke-width="0.8">
<path d="M1366.2 105.8 L1062.8 281 L1099.9 302.5 L1442.4 105.8"/>
<path d="M1062.8 282.2 L1099.9 303.7 L1444.4 105.8" stroke-width="0.6"/>
<path d="M1093.4 298.9 L1429.6 105.8" stroke="#c3cac9"/>
<path d="M1095 299.8 L1432.6 105.8" stroke="#d0d5d4" stroke-width="0.6"/>
</g>
<rect x="1355" y="104.6" width="100" height="4.5" fill="url(#g83)"/>
<rect x="1126.4" y="284.2" width="3.2" height="1.8" fill="#8fa3a6" transform="rotate(-30 1128 285.2)"/>
<rect x="1278.4" y="197.4" width="3.2" height="1.8" fill="#9aa9ab" transform="rotate(-30 1280 198.2)"/>
<rect x="1429.4" y="110.8" width="3.2" height="1.8" fill="#9aa9ab" transform="rotate(-30 1431 111.7)"/>
<path d="M1241.4 177.2 L1243.8 175.8" stroke="#8c9897" stroke-width="0.9"/>
</g>
<path d="M1240.3 186.7 L1246.8999999999999 186.7 L1246.8999999999999 195.2 L1250.8999999999999 195.2 L1243.6 206.8 L1236.3 195.2 L1240.3 195.2Z" fill="#c3c7c7"/>
<path d="M1062.7 289.8 L1067.8999999999999 289.8 L1067.8999999999999 299.4 L1072.5 299.4 L1065.3 310 L1058.1 299.4 L1062.7 299.4Z" fill="#111"/>
<path d="M1096.6 310 L1102.0 310 L1102.0 319.4 L1106.7 319.4 L1099.3 330 L1091.8999999999999 319.4 L1096.6 319.4Z" fill="#111"/>
<path d="M1274.5 208.3 L1281.1 208.3 L1281.1 217.5 L1285.1 217.5 L1277.8 229 L1270.5 217.5 L1274.5 217.5Z" fill="#111"/>
<path d="M1430.9 153.6 L1425.2 182.6 L1436 183.6Z" fill="#111"/>
<circle cx="1422.6" cy="270.3" r="86.2" fill="#fff"/>
<g clip-path="url(#c83)" fill="none" stroke-linecap="round" stroke-linejoin="round">
<path d="M1353.5 221.4 L1440 170 L1500 196 L1408.6 254.2Z" fill="#f3f5f5" stroke="none"/>
<g stroke="#d5dad9" stroke-width="0.7">
<path d="M1361.4 226.1 L1451.4 173.1"/>
<path d="M1369.2 230.8 L1459.2 177.8"/>
<path d="M1377.1 235.5 L1467.1 182.5"/>
<path d="M1385.0 240.1 L1475.0 187.1"/>
<path d="M1392.9 244.8 L1482.9 191.8"/>
<path d="M1400.7 249.5 L1490.7 196.5"/>
</g>
<path d="M1353.5 221.4 L1408.6 254.2" stroke="#888" stroke-width="0.9" stroke-dasharray="1.6 1"/>
<path d="M1353.5 221.4 L1440 170" stroke="#ccd2d1" stroke-width="0.8"/>
<g stroke="#9aa3a2" stroke-width="0.8">
<path d="M1408.6 254.2 L1500 199"/>
<path d="M1413.2 260 L1503 207"/>
<path d="M1413.2 274.6 L1510 218"/>
<path d="M1413.2 267 L1506 212.4" stroke-dasharray="2 1.4" stroke="#b8c0bf"/>
<path d="M1411 257.4 L1502 203" stroke-dasharray="2 1.4" stroke="#b8c0bf"/>
</g>
<path d="M1408.6 254.2 Q1413.4 256 1413.2 262 L1413.2 275" stroke="#777" stroke-width="0.8"/>
<path d="M1407.4 258 Q1409.6 262 1408.8 270 L1408.8 349" stroke="#666" stroke-width="0.9" stroke-dasharray="1.8 0.9"/>
<path d="M1410.6 275 L1410.6 349" stroke="#888" stroke-width="0.7" stroke-dasharray="1.8 0.9"/>
<path d="M1409 349 L1503 294.2" stroke="#555" stroke-width="0.9"/>
<path d="M1353.5 315.4 L1408 349.4" stroke="#666" stroke-width="0.9" stroke-dasharray="1.8 0.9"/>
<path d="M1336 249.6 L1385.4 272.6 Q1398 276.6 1408 276.8" stroke="#444" stroke-width="0.9"/>
<path d="M1338 256 L1384 276.6" stroke="#999" stroke-width="0.7"/>
<g stroke="#444" stroke-width="0.8">
<path d="M1338 276.6 Q1346 279 1356 283 Q1372 286 1378 290 Q1384 296 1380 301 L1354 316"/>
<path d="M1340 283.6 Q1350 285.6 1358 288.6 Q1370 290.4 1374 293.6 Q1377 297.6 1374 300 L1350 313.4" stroke="#888"/>
<path d="M1342 291 L1350 294.6 M1344 300.6 Q1354 296 1362 294.6 Q1369 294.4 1366 298.6 L1346 310.6" stroke="#777"/>
<path d="M1348 304.8 L1362 297 M1340 270 L1350 274" stroke="#999"/>
<path d="M1360 283.4 L1362 289 M1365 284.6 L1366 289.6" stroke="#777" stroke-width="0.6"/>
<path d="M1408 306.6 L1396 312.6 Q1389 316.6 1392 321.6 L1397 327.6 Q1401 329.6 1408 328.6" />
<path d="M1408 310.6 L1399 315 Q1394.6 318 1396.4 321 L1399.6 324.6 Q1402 326 1408 325.4" stroke="#111"/>
<path d="M1408 315.6 L1403 318.6 Q1401 320.4 1403.6 322 L1408 322" stroke="#555"/>
</g>
<rect x="1430.1" y="269.9" width="25" height="7.4" rx="3.7" transform="rotate(-30 1442.6 273.6)" stroke="#555" stroke-width="0.8" fill="#fff"/><path d="M1433.1 276.1 L1452.1 276.1" transform="rotate(-30 1442.6 273.6)" stroke="#999" stroke-width="0.7"/>
<rect x="1430.4" y="305.1" width="25" height="7.4" rx="3.7" transform="rotate(-30 1442.9 308.8)" stroke="#555" stroke-width="0.8" fill="#fff"/><path d="M1433.4 311.3 L1452.4 311.3" transform="rotate(-30 1442.9 308.8)" stroke="#999" stroke-width="0.7"/>
<rect x="1495.5" y="270.7" width="25" height="7.4" rx="3.7" transform="rotate(-30 1508 274.4)" stroke="#555" stroke-width="0.8" fill="#fff"/><path d="M1498.5 276.9 L1517.5 276.9" transform="rotate(-30 1508 274.4)" stroke="#999" stroke-width="0.7"/>
<rect x="1498.0" y="233.5" width="14" height="5" rx="2.5" transform="rotate(-30 1505 236)" stroke="#555" stroke-width="0.8" fill="#fff"/><path d="M1501.0 237.3 L1509.0 237.3" transform="rotate(-30 1505 236)" stroke="#999" stroke-width="0.7"/>
<path d="M1386 243.6 Q1388.6 246 1392.6 245 M1392.6 258.6 Q1394 254 1399.6 251.6" stroke="#999" stroke-width="0.7"/>
<path d="M1418.2 234.2 L1453.6 214 Q1456.6 213 1458.6 214.6 L1465 219.6 L1438 238.4 L1437.4 240.6 Q1427 236.4 1420 237.6 L1418.6 238.4Z" fill="#fff" stroke="#555" stroke-width="0.8"/>
<path d="M1446 218.4 L1448 217.4 M1429.6 227.4 L1431.6 226.4" stroke="#222" stroke-width="1"/>
<path d="M1437.4 238.6 Q1439 250 1438.8 262 Q1439.4 266.6 1442.6 266.8" fill="none" stroke="#555" stroke-width="1.6"/>
<path d="M1437.6 240 Q1437.6 237.6 1440 236.4 L1448 232 Q1446.6 228.6 1450.6 226.4 Q1455 224.4 1457.4 227 L1464 220.8 Q1470 217.6 1474 222 Q1476.2 224.6 1476.2 228 L1476.2 246 Q1476 248 1474 249 L1445 266 Q1441 267.6 1439.6 264Z" fill="#b4bdbc" stroke="#4a5050" stroke-width="0.9"/>
<path d="M1449 240.6 L1456.6 236.4 Q1459.6 233.4 1457.6 230.4 L1462 227.8 Q1464 231 1468 229.6 L1470 231.6 L1462 242 L1452 244 Q1449.6 243.4 1449 240.6Z" fill="#eef1f1" stroke="#4a5050" stroke-width="0.8"/>
<path d="M1451 243.4 L1460 238 L1468 233" stroke="#666" stroke-width="0.7"/>
</g>
<circle cx="1422.6" cy="270.3" r="86.2" fill="none" stroke="#222" stroke-width="0.9"/>
</svg>
<svg class="f" width="1600" height="1131" viewBox="0 0 1600 1131">
<g fill="none" stroke="#222" stroke-width="0.85" stroke-linecap="round" stroke-linejoin="round">
<path d="M1094.6 797.6 L1275 694.2"/>
<path d="M1094.6 797.6 L1094.6 805.8 L1102.2 801.9"/>
<path d="M1095.6 798 L1281.6 904.4" stroke-width="1.3"/>
<path d="M1281.6 904.4 L1517.8 768.5 M1281.6 913.9 L1517.8 778.1 M1281.6 904.4 L1281.6 913.9"/>
<ellipse cx="1153.9" cy="786" rx="3.6" ry="2.1" stroke-width="0.7"/>
<path d="M1150.2 787.2 L1139.6 793.2" stroke-width="0.6"/>
<path d="M1121.8 781 L1142.6 792.2" stroke-width="0.6"/>
<ellipse cx="1301.1" cy="871.3" rx="3.6" ry="2.1" stroke-width="0.7"/>
<path d="M1297.6 872.6 L1287.2 878.7" stroke-width="0.6"/>
<path d="M1289.4 878 L1310 889.4" stroke-width="0.6"/>
<path d="M1275.1 664.8 L1275.1 698 L1298.6 709.2 Q1303 711.2 1307 709.6 L1328.2 697.6 L1328.2 664.8" fill="#fff"/>
<path d="M1298.6 664.8 L1298.6 709.2 M1306.9 664.8 L1306.9 709.7" stroke-width="0.7"/>
<path d="M1279.4 700.3 L1279.4 719 Q1279.6 724.5 1284 727.2 M1323.6 700.2 L1323.6 719 Q1323.4 724.5 1319 727.2"/>
<path d="M1282.3 727 Q1301.5 741.5 1320.9 727" stroke="#555" stroke-width="2.6"/>
<path d="M1282.3 725.6 Q1301.5 740 1320.9 725.6" stroke-width="0.6"/>
<path d="M1282.3 729.2 Q1301.5 743.6 1320.9 729.2" stroke-width="0.6"/>
<path d="M1282.5 727 L1282.5 751.5 Q1283 756 1287.4 758 M1321.1 727 L1321.1 751.5 Q1320.6 756 1316 758"/>
<path d="M1287.4 758 l1.8 1.3 l1.2 -1.1 l1.9 2 l1.4 -1.2 l1.9 2.2 l1.5 -1.2 l2 2.2 l1.6 -1.2 l1.6 1.2 l1.8 -2.1 l1.5 1.2 l1.9 -2.2 l1.4 1.2 l1.9 -2 l1.2 1.1 l1.8 -1.4" stroke-width="0.7"/>
<path d="M1288.4 759.6 Q1287.6 765.5 1294 767.6 Q1301.5 769.8 1309 767.6 Q1315.4 765.5 1314.6 759.6" stroke-width="0.8"/>
<circle cx="1297.7" cy="763.8" r="2.1" stroke-width="0.7"/>
<path d="M1296.4 768.6 Q1297.4 773 1299.3 777 M1306.8 768.6 Q1305.8 773 1304.5 777 M1300.5 769.2 L1301.2 777 M1302.6 769.2 L1302.4 777" stroke-width="0.7"/>
<path d="M1298.4 776.5 L1298.4 855 Q1298.6 858.8 1301.4 858.8 Q1304.4 858.8 1304.5 855 L1304.5 776.5" fill="#fff"/>
<path d="M1298.4 791.2 L1304.5 791.2 M1298.4 793 L1304.5 793 M1298.4 796.9 L1304.5 796.9" stroke-width="0.7"/>
<clipPath id="bitclip"><path d="M1298.4 796.9 L1298.4 855 Q1298.6 858.8 1301.4 858.8 Q1304.4 858.8 1304.5 855 L1304.5 796.9 Z"/></clipPath>
<path d="M1298.4 805.6 L1304.5 794.4 M1298.4 811.9 L1304.5 800.7 M1298.4 818.2 L1304.5 807.0 M1298.4 824.5 L1304.5 813.3 M1298.4 830.8 L1304.5 819.6 M1298.4 837.1 L1304.5 825.9 M1298.4 843.4 L1304.5 832.2 M1298.4 849.7 L1304.5 838.5 M1298.4 856.0 L1304.5 844.8 M1298.4 862.3 L1304.5 851.1" stroke-width="1.25" clip-path="url(#bitclip)"/>
</g>
<g fill="#222">
<path d="M1122.6 781.4 l4.2 0.6 l-1.5 2.7z M1141.8 791.8 l-4.2 -0.6 l1.5 -2.7z"/>
<path d="M1290.2 878.4 l4.2 0.6 l-1.5 2.7z M1309.2 889 l-4.2 -0.6 l1.5 -2.7z"/>
</g>
<g font-size="10.7" style="fill:#333">
<text x="1106.9" y="692.2" style="fill:#333">DRL = B 27 mm</text>
<text x="1106.9" y="705.1" style="fill:#333">DBKR = B 27 mm</text>
<text x="1106.9" y="718.1" style="fill:#333">WDRL = B 38 mm</text>
<text x="1106.9" y="731.0" style="fill:#333">WKLD = B 58 mm</text>
<text x="1239.8" y="841.8" style="fill:#333">Ø 16,5 mm</text>
<text x="1125.6" y="796.4" style="fill:#333">B</text>
<text x="1290.6" y="891.3" style="fill:#333">B</text>
</g></svg>

</div></body></html>
